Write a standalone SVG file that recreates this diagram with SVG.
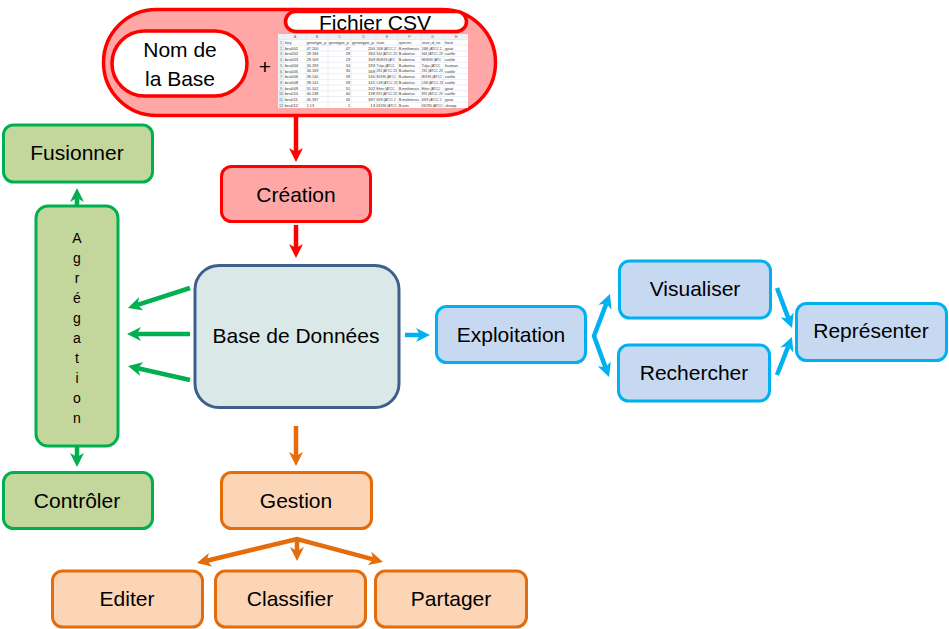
<svg xmlns="http://www.w3.org/2000/svg" width="949" height="629" viewBox="0 0 949 629">
<style>
.t{font-family:"Liberation Sans",Arial,sans-serif;font-size:21px;fill:#000;text-anchor:middle}
.g{fill:#c3d69b;stroke:#00b050;stroke-width:3}
.o{fill:#fbd5b5;stroke:#e46c0a;stroke-width:3}
.b{fill:#c6d9f1;stroke:#00b0f0;stroke-width:3}
.r{fill:#ffa7a7;stroke:#ff0000;stroke-width:3}
.w{fill:#fff;stroke:#ff0000;stroke-width:3.5}
.ag{font-family:"Liberation Sans",Arial,sans-serif;font-size:14px;fill:#000;text-anchor:middle}
.s{font-family:"Liberation Sans",Arial,sans-serif;font-size:4.2px;fill:#333}
.sh{font-family:"Liberation Sans",Arial,sans-serif;font-size:3.8px;fill:#666;text-anchor:middle}
.e{text-anchor:end}
.grid{stroke:#d0d7e5;stroke-width:0.4}
.ln{fill:none;stroke-width:4.5;stroke-linejoin:miter}
</style>
<defs>
<marker id="mr" viewBox="0 0 14 14" refX="4" refY="7" markerWidth="14" markerHeight="14" markerUnits="userSpaceOnUse" orient="auto-start-reverse"><path d="M0,0 L14,7 L0,14 L4,7 z" fill="#ff0000"/></marker>
<marker id="mg" viewBox="0 0 14 14" refX="4" refY="7" markerWidth="14" markerHeight="14" markerUnits="userSpaceOnUse" orient="auto-start-reverse"><path d="M0,0 L14,7 L0,14 L4,7 z" fill="#00b050"/></marker>
<marker id="mb" viewBox="0 0 14 14" refX="4" refY="7" markerWidth="14" markerHeight="14" markerUnits="userSpaceOnUse" orient="auto-start-reverse"><path d="M0,0 L14,7 L0,14 L4,7 z" fill="#00b0f0"/></marker>
<marker id="mo" viewBox="0 0 14 14" refX="4" refY="7" markerWidth="14" markerHeight="14" markerUnits="userSpaceOnUse" orient="auto-start-reverse"><path d="M0,0 L14,7 L0,14 L4,7 z" fill="#e46c0a"/></marker>
</defs>
<rect width="949" height="629" fill="#fff"/>

<g id="source">
<rect x="103.5" y="9.5" width="392" height="106" rx="53" fill="#ffa7a7" stroke="#ff0000" stroke-width="3.5"/>
<g id="nom-base">
<rect x="112" y="31" width="135" height="65" rx="32.5" class="w"/>
<text class="t" x="180" y="57" font-size="22">Nom de</text>
<text class="t" x="180" y="86" font-size="22">la Base</text>
</g>
<text class="t" x="265" y="74" font-size="22">+</text>
<g id="fichier-csv">
<rect x="285.5" y="11.5" width="181" height="20" rx="10" class="w" stroke-width="3"/>
<text class="t" x="375" y="30" font-size="20">Fichier CSV</text>
<g id="sheet">
<rect x="278" y="34" width="190" height="74" fill="#fff"/>
<rect x="278" y="34" width="190" height="5.5" fill="#eef1f5"/>
<rect x="278" y="34" width="6" height="74" fill="#eef1f5"/>
<g class="grid">
<line x1="278" y1="39.5" x2="468" y2="39.5"/><line x1="278" y1="45.2" x2="468" y2="45.2"/><line x1="278" y1="50.9" x2="468" y2="50.9"/><line x1="278" y1="56.6" x2="468" y2="56.6"/><line x1="278" y1="62.3" x2="468" y2="62.3"/><line x1="278" y1="68" x2="468" y2="68"/><line x1="278" y1="73.7" x2="468" y2="73.7"/><line x1="278" y1="79.4" x2="468" y2="79.4"/><line x1="278" y1="85.1" x2="468" y2="85.1"/><line x1="278" y1="90.8" x2="468" y2="90.8"/><line x1="278" y1="96.5" x2="468" y2="96.5"/><line x1="278" y1="102.2" x2="468" y2="102.2"/>
<line x1="284" y1="34" x2="284" y2="108"/><line x1="306" y1="34" x2="306" y2="108"/><line x1="328" y1="34" x2="328" y2="108"/><line x1="351" y1="34" x2="351" y2="108"/><line x1="376" y1="34" x2="376" y2="108"/><line x1="398" y1="34" x2="398" y2="108"/><line x1="421" y1="34" x2="421" y2="108"/><line x1="444" y1="34" x2="444" y2="108"/>
</g>
<text class="sh"><tspan x="295" y="38.3">A</tspan><tspan x="317" y="38.3">B</tspan><tspan x="339.5" y="38.3">C</tspan><tspan x="363.5" y="38.3">D</tspan><tspan x="387" y="38.3">E</tspan><tspan x="409.5" y="38.3">F</tspan><tspan x="432.5" y="38.3">G</tspan><tspan x="456" y="38.3">H</tspan></text>
<text class="sh"><tspan x="281" y="44">1</tspan><tspan x="281" y="49.7">2</tspan><tspan x="281" y="55.4">3</tspan><tspan x="281" y="61.1">4</tspan><tspan x="281" y="66.8">5</tspan><tspan x="281" y="72.5">6</tspan><tspan x="281" y="78.2">7</tspan><tspan x="281" y="83.9">8</tspan><tspan x="281" y="89.6">9</tspan><tspan x="281" y="95.3">10</tspan><tspan x="281" y="101">11</tspan><tspan x="281" y="106.7">12</tspan></text>
<svg x="284" y="34" width="22" height="74"><text class="s"><tspan x="1" y="10">key</tspan><tspan x="1" y="15.7">bru001</tspan><tspan x="1" y="21.4">bru002</tspan><tspan x="1" y="27.1">bru003</tspan><tspan x="1" y="32.8">bru004</tspan><tspan x="1" y="38.5">bru005</tspan><tspan x="1" y="44.2">bru006</tspan><tspan x="1" y="49.9">bru008</tspan><tspan x="1" y="55.6">bru009</tspan><tspan x="1" y="61.3">bru010</tspan><tspan x="1" y="67">bru011</tspan><tspan x="1" y="72.7">bru012</tspan></text></svg>
<svg x="306" y="34" width="22" height="74" viewBox="0 0 24.5 74" preserveAspectRatio="none"><text class="s"><tspan x="0.8" y="10">genotype_p</tspan><tspan x="0.8" y="15.7">47.200</tspan><tspan x="0.8" y="21.4">28.184</tspan><tspan x="0.8" y="27.1">29.169</tspan><tspan x="0.8" y="32.8">34.193</tspan><tspan x="0.8" y="38.5">30.169</tspan><tspan x="0.8" y="44.2">39.140</tspan><tspan x="0.8" y="49.9">39.141</tspan><tspan x="0.8" y="55.6">51.102</tspan><tspan x="0.8" y="61.3">40.138</tspan><tspan x="0.8" y="67">45.187</tspan><tspan x="0.8" y="72.7">1.13</tspan></text></svg>
<svg x="328" y="34" width="23" height="74" viewBox="0 0 25 74" preserveAspectRatio="none"><text class="s"><tspan x="0.8" y="10">genotype_p</tspan></text><text class="s e"><tspan x="24" y="15.7">47</tspan><tspan x="24" y="21.4">28</tspan><tspan x="24" y="27.1">29</tspan><tspan x="24" y="32.8">34</tspan><tspan x="24" y="38.5">30</tspan><tspan x="24" y="44.2">39</tspan><tspan x="24" y="49.9">39</tspan><tspan x="24" y="55.6">51</tspan><tspan x="24" y="61.3">40</tspan><tspan x="24" y="67">45</tspan><tspan x="24" y="72.7">1</tspan></text></svg>
<svg x="351" y="34" width="25" height="74"><text class="s"><tspan x="1" y="10">genotype_p</tspan></text><text class="s e"><tspan x="24" y="15.7">200</tspan><tspan x="24" y="21.4">184</tspan><tspan x="24" y="27.1">169</tspan><tspan x="24" y="32.8">193</tspan><tspan x="24" y="38.5">169</tspan><tspan x="24" y="44.2">140</tspan><tspan x="24" y="49.9">141</tspan><tspan x="24" y="55.6">102</tspan><tspan x="24" y="61.3">138</tspan><tspan x="24" y="67">187</tspan><tspan x="24" y="72.7">13</tspan></text></svg>
<svg x="376" y="34" width="22" height="74" viewBox="0 0 29 74" preserveAspectRatio="none"><text class="s"><tspan x="0.8" y="10">strain</tspan><tspan x="0.8" y="15.7">16M (ATCC 2</tspan><tspan x="0.8" y="21.4">544 (ATCC 23</tspan><tspan x="0.8" y="27.1">86/8/59 (ATC</tspan><tspan x="0.8" y="32.8">Tulya (ATCC</tspan><tspan x="0.8" y="38.5">292 (ATCC 23</tspan><tspan x="0.8" y="44.2">B3196 (ATCC</tspan><tspan x="0.8" y="49.9">C68 (ATCC 23</tspan><tspan x="0.8" y="55.6">Ether (ATCC</tspan><tspan x="0.8" y="61.3">870 (ATCC 23</tspan><tspan x="0.8" y="67">63/9 (ATCC 2</tspan><tspan x="0.8" y="72.7">63/290 (ATCC</tspan></text></svg>
<svg x="398" y="34" width="23" height="74" viewBox="0 0 25.5 74" preserveAspectRatio="none"><text class="s"><tspan x="0.8" y="10">species</tspan><tspan x="0.8" y="15.7">B.melitensis</tspan><tspan x="0.8" y="21.4">B.abortus</tspan><tspan x="0.8" y="27.1">B.abortus</tspan><tspan x="0.8" y="32.8">B.abortus</tspan><tspan x="0.8" y="38.5">B.abortus</tspan><tspan x="0.8" y="44.2">B.abortus</tspan><tspan x="0.8" y="49.9">B.abortus</tspan><tspan x="0.8" y="55.6">B.melitensis</tspan><tspan x="0.8" y="61.3">B.abortus</tspan><tspan x="0.8" y="67">B.melitensis</tspan><tspan x="0.8" y="72.7">B.ovis</tspan></text></svg>
<svg x="421" y="34" width="23" height="74" viewBox="0 0 29 74" preserveAspectRatio="none"><text class="s"><tspan x="0.8" y="10">strain_id_rec</tspan><tspan x="0.8" y="15.7">16M (ATCC 2</tspan><tspan x="0.8" y="21.4">544 (ATCC 23</tspan><tspan x="0.8" y="27.1">86/8/59 (ATC</tspan><tspan x="0.8" y="32.8">Tulya (ATCC</tspan><tspan x="0.8" y="38.5">292 (ATCC 23</tspan><tspan x="0.8" y="44.2">B3196 (ATCC</tspan><tspan x="0.8" y="49.9">C68 (ATCC 23</tspan><tspan x="0.8" y="55.6">Ether (ATCC</tspan><tspan x="0.8" y="61.3">870 (ATCC 23</tspan><tspan x="0.8" y="67">63/9 (ATCC 2</tspan><tspan x="0.8" y="72.7">63/290 (ATCC</tspan></text></svg>
<svg x="444" y="34" width="24" height="74"><text class="s"><tspan x="1" y="10">host</tspan><tspan x="1" y="15.7">goat</tspan><tspan x="1" y="21.4">cattle</tspan><tspan x="1" y="27.1">cattle</tspan><tspan x="1" y="32.8">human</tspan><tspan x="1" y="38.5">cattle</tspan><tspan x="1" y="44.2">cattle</tspan><tspan x="1" y="49.9">cattle</tspan><tspan x="1" y="55.6">goat</tspan><tspan x="1" y="61.3">cattle</tspan><tspan x="1" y="67">goat</tspan><tspan x="1" y="72.7">sheep</tspan></text></svg>
</g>
</g>
</g>

<g id="connectors">
<line class="ln" x1="296" y1="117" x2="296" y2="152" stroke="#ff0000" marker-end="url(#mr)"/>
<line class="ln" x1="296" y1="225" x2="296" y2="248" stroke="#ff0000" marker-end="url(#mr)"/>
<line class="ln" x1="77" y1="205" x2="77" y2="198" stroke="#00b050" marker-end="url(#mg)"/>
<line class="ln" x1="77" y1="446" x2="77" y2="457" stroke="#00b050" marker-end="url(#mg)"/>
<line class="ln" x1="190" y1="288" x2="137.5" y2="304.9" stroke="#00b050" marker-end="url(#mg)"/>
<line class="ln" x1="190" y1="334" x2="137" y2="334" stroke="#00b050" marker-end="url(#mg)"/>
<line class="ln" x1="190" y1="380" x2="137.8" y2="368.2" stroke="#00b050" marker-end="url(#mg)"/>
<line class="ln" x1="405" y1="335" x2="420" y2="335" stroke="#00b0f0" marker-end="url(#mb)"/>
<path class="ln" d="M606.4,303.4 L594,336 L605.6,367.6" stroke="#00b0f0" marker-start="url(#mb)" marker-end="url(#mb)"/>
<line class="ln" x1="777" y1="288" x2="788.5" y2="318.6" stroke="#00b0f0" marker-end="url(#mb)"/>
<line class="ln" x1="777" y1="375" x2="788.3" y2="346.3" stroke="#00b0f0" marker-end="url(#mb)"/>
<line class="ln" x1="296" y1="426" x2="296" y2="456" stroke="#e46c0a" marker-end="url(#mo)"/>
<path class="ln" d="M206.7,560.7 L297,539 L373.3,559.4" stroke="#e46c0a" marker-start="url(#mo)" marker-end="url(#mo)"/>
<line class="ln" x1="297" y1="539" x2="297" y2="551" stroke="#e46c0a" marker-end="url(#mo)"/>
</g>

<g id="fusionner"><rect x="3.5" y="125" width="149" height="57" rx="10" class="g"/><text class="t" x="77" y="160">Fusionner</text></g>
<g id="agregation"><rect x="36" y="206" width="82" height="240" rx="12" class="g"/>
<text class="ag"><tspan x="77" y="243">A</tspan><tspan x="77" y="263">g</tspan><tspan x="77" y="283">r</tspan><tspan x="77" y="303">é</tspan><tspan x="77" y="323">g</tspan><tspan x="77" y="343">a</tspan><tspan x="77" y="363">t</tspan><tspan x="77" y="383">i</tspan><tspan x="77" y="403">o</tspan><tspan x="77" y="423">n</tspan></text></g>
<g id="controler"><rect x="3.5" y="472.5" width="149" height="56" rx="10" class="g"/><text class="t" x="77" y="508">Contrôler</text></g>
<g id="creation"><rect x="221.5" y="166.5" width="149" height="55" rx="10" class="r"/><text class="t" x="296" y="202">Création</text></g>
<g id="base"><rect x="195" y="265.5" width="204" height="142" rx="24" fill="#dbe8e8" stroke="#3e5f8a" stroke-width="3"/><text class="t" x="296" y="343">Base de Données</text></g>
<g id="exploitation"><rect x="436.5" y="306.5" width="149" height="56" rx="10" class="b"/><text class="t" x="511" y="342">Exploitation</text></g>
<g id="visualiser"><rect x="619.5" y="261" width="151" height="57" rx="10" class="b"/><text class="t" x="695" y="296">Visualiser</text></g>
<g id="rechercher"><rect x="618.5" y="345" width="151" height="56" rx="10" class="b"/><text class="t" x="694" y="380">Rechercher</text></g>
<g id="representer"><rect x="796.5" y="303.5" width="150" height="57" rx="10" class="b"/><text class="t" x="871" y="338">Représenter</text></g>
<g id="gestion"><rect x="221.5" y="472.5" width="150" height="56" rx="10" class="o"/><text class="t" x="296" y="508">Gestion</text></g>
<g id="editer"><rect x="52.5" y="571" width="150" height="56" rx="10" class="o"/><text class="t" x="127" y="606">Editer</text></g>
<g id="classifier"><rect x="215.5" y="571" width="150" height="56" rx="10" class="o"/><text class="t" x="290" y="606">Classifier</text></g>
<g id="partager"><rect x="375.5" y="571" width="151" height="56" rx="10" class="o"/><text class="t" x="451" y="606">Partager</text></g>
</svg>
